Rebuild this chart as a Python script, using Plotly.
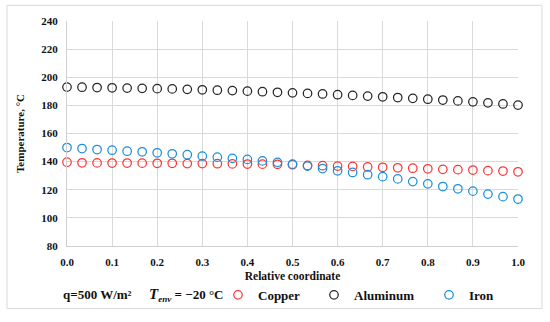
import plotly.graph_objects as go

x_rel = [i / 30 for i in range(31)]

copper = [139.6, 139.2, 139.1, 139.0, 139.0, 138.9, 138.8, 138.8, 138.6, 138.6,
          138.5, 138.4, 138.3, 138.2, 138.1, 137.8, 137.3, 137.1, 136.8, 136.6,
          136.2, 136.0, 135.6, 135.3, 134.9, 134.5, 134.3, 134.0, 133.6, 133.3, 132.8]
aluminum = [193.0, 192.9, 192.7, 192.5, 192.3, 192.1, 191.9, 191.7, 191.4, 191.1,
            190.8, 190.5, 190.1, 189.7, 189.3, 188.9, 188.5, 188.1, 187.6, 187.1,
            186.6, 186.1, 185.6, 185.0, 184.4, 183.8, 183.2, 182.5, 181.8, 181.0, 180.2]
iron = [150.0, 149.3, 148.6, 148.1, 147.4, 147.0, 146.3, 145.6, 144.9, 143.9,
        143.2, 142.3, 141.6, 140.5, 139.5, 138.2, 136.8, 135.1, 133.5, 132.3,
        130.7, 129.3, 127.7, 125.8, 124.2, 122.3, 120.7, 119.0, 116.9, 115.1, 113.4]

series_names = ["Copper", "Aluminum", "Iron"]
series_colors = ["#ff3535", "#262626", "#1a8fdc"]

FONT = "Liberation Serif"

fig = go.Figure()
for i, (name, vals, col) in enumerate(zip(series_names, [copper, aluminum, iron], series_colors)):
    fig.add_trace(go.Scatter(
        x=x_rel, y=vals, mode="markers", name=name,
        marker=dict(symbol="circle-open", size=8.5, color=col, line=dict(width=1.25, color=col)),
        cliponaxis=False,
        legend="legend" if i == 0 else f"legend{i+1}",
    ))

# plot area px: x 67..518, y 21..251
PW, PH = 451, 230
def px_x(p):
    return (p - 67) / PW
def px_y(p):
    return (251 - p) / PH

leg_common = dict(orientation="h", yanchor="middle", xanchor="left", bgcolor="rgba(0,0,0,0)",
                  font=dict(family=FONT, size=13, color="#111", weight="bold"),
                  itemwidth=30, borderwidth=0)
legend_text_px = [257, 353, 468]
leg_y = px_y(301)

fig.update_layout(
    width=550, height=322,
    margin=dict(l=67, r=32, t=21, b=71),
    paper_bgcolor="white", plot_bgcolor="white",
    font=dict(family=FONT, color="#111"),
    showlegend=True,
    legend=dict(x=px_x(legend_text_px[0] - 39), y=leg_y, **leg_common),
    legend2=dict(x=px_x(legend_text_px[1] - 39), y=leg_y, **leg_common),
    legend3=dict(x=px_x(legend_text_px[2] - 39), y=leg_y, **leg_common),
    xaxis=dict(
        range=[0, 1], dtick=0.1, tickformat=".1f", automargin=False,
        showgrid=True, gridcolor="#d9d9d9", gridwidth=1,
        showline=True, linecolor="#d0d0d0", linewidth=1, zeroline=False,
        ticks="", ticklabelstandoff=6,
        tickfont=dict(family=FONT, size=11, color="#111", weight="bold"),
        title=dict(text="Relative coordinate", standoff=4,
                   font=dict(family=FONT, size=11.5, color="#111", weight="bold")),
    ),
    yaxis=dict(
        range=[80, 240], dtick=20, automargin=False,
        showgrid=True, gridcolor="#d9d9d9", gridwidth=1,
        showline=True, linecolor="#d0d0d0", linewidth=1, zeroline=False,
        ticks="", ticklabelstandoff=6,
        tickfont=dict(family=FONT, size=11, color="#111", weight="bold"),
        title=dict(text="Temperature, °C", standoff=14,
                   font=dict(family=FONT, size=11, color="#111", weight="bold")),
    ),
    shapes=[dict(type="rect", xref="paper", yref="paper",
                 x0=px_x(7), x1=px_x(542), y0=px_y(315), y1=px_y(5),
                 line=dict(color="#d9d9d9", width=1), fillcolor="rgba(0,0,0,0)", layer="below")],
    annotations=[
        dict(text="q=500 W/m²", xref="paper", yref="paper", x=px_x(61), y=leg_y,
             xanchor="left", yanchor="middle", showarrow=False,
             font=dict(family=FONT, size=13, color="#111", weight="bold")),
        dict(text="<i><span style='font-size:15px'>T</span></i><sub><i>env</i></sub> = −20 °C",
             xref="paper", yref="paper",
             x=px_x(147), y=leg_y, xanchor="left", yanchor="middle", showarrow=False,
             font=dict(family=FONT, size=13, color="#111", weight="bold")),
    ],
)

fig.write_html("out.html", config={"displayModeBar": False},
               post_script="document.body.style.margin='0';")
